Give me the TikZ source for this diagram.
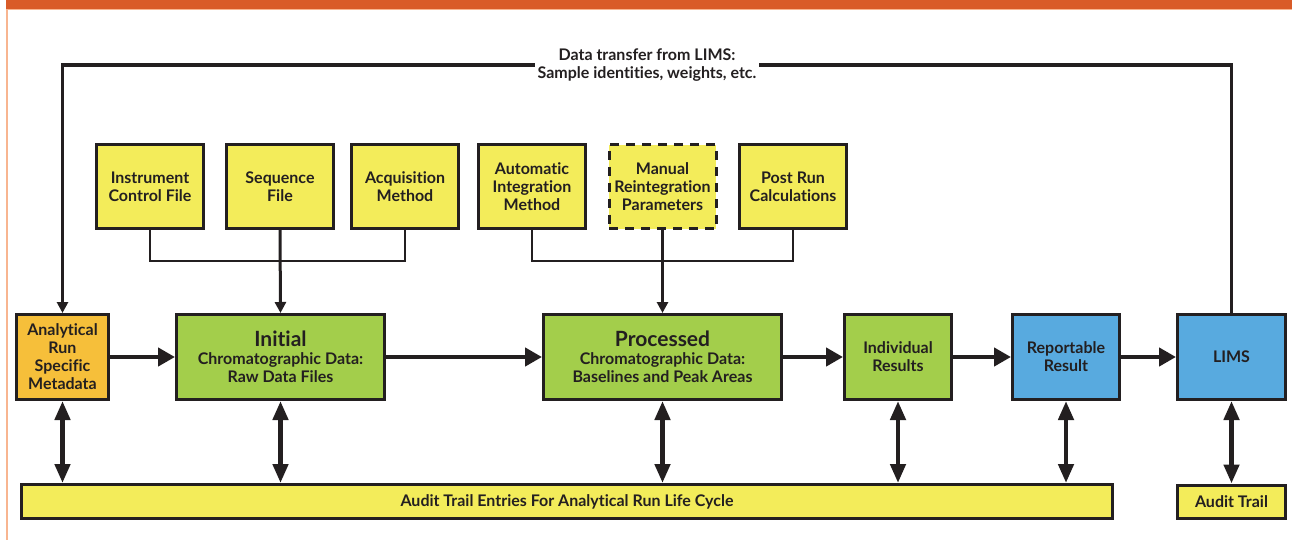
\documentclass[tikz,border=0pt]{standalone}
\usepackage{fontspec}
\setmainfont{Lato}[UprightFont=* Bold, Ligatures=CommonOff]
\usetikzlibrary{arrows.meta}
\definecolor{inkc}{HTML}{231F20}
\definecolor{yelc}{HTML}{F3EC5A}
\definecolor{grnc}{HTML}{A3CE4B}
\definecolor{bluc}{HTML}{58AADF}
\definecolor{orgc}{HTML}{F6BF3A}
\definecolor{barc}{HTML}{D95B28}
\definecolor{rulec}{HTML}{F8B590}
\tikzset{
  box/.style={draw=inkc, line width=3pt, align=center, text=inkc,
    font=\fontsize{16}{18}\selectfont, inner sep=0pt},
  topbox/.style={box, fill=yelc, minimum width=107pt, minimum height=84pt},
  flow/.style={draw=inkc, line width=4.5pt, -{Triangle[length=17pt,width=18pt]}},
  audit/.style={draw=inkc, line width=4.5pt,
    {Triangle[length=19pt,width=15pt]}-{Triangle[length=19pt,width=15pt]}},
  feed/.style={draw=inkc, line width=3pt, -{Triangle[length=11pt,width=11pt]}},
  bracket/.style={draw=inkc, line width=1.2pt},
  bigword/.style={font=\fontsize{21}{22}\selectfont},
}
\newcommand{\headword}[1]{{\fontsize{21}{23}\selectfont #1}}
\begin{document}
\begin{tikzpicture}[x=1pt,y=-1pt]
\useasboundingbox (0,0) rectangle (1292,543);
% page frame
\fill[barc] (6,0) rectangle (1292,9);
\fill[rulec] (6,9) rectangle (1292,10);
\fill[rulec] (6,9) rectangle (7.5,540);

% input files
\node[topbox] (ictrl) at (150,186.5) {Instrument\\Control File};
\node[topbox] (seq) at (280,186.5) {Sequence\\File};
\node[topbox] (acq) at (405,186.5) {Acquisition\\Method};
\node[topbox] (auto) at (532,186.5) {Automatic\\Integration\\Method};
\node[topbox, dash pattern=on 9pt off 7pt] (manual) at (662.5,186.5) {Manual\\Reintegration\\Parameters};
\node[topbox] (post) at (793,186.5) {Post Run\\Calculations};

% main flow
\node[box, fill=orgc, minimum width=92pt, minimum height=85pt] (meta) at (62.5,357) {Analytical\\Run\\Specific\\Metadata};
\node[box, fill=grnc, minimum width=208pt, minimum height=85pt] (init) at (280.5,357)
  {\headword{Initial}\\Chromatographic Data:\\Raw Data Files};
\node[box, fill=grnc, minimum width=238pt, minimum height=85pt] (proc) at (662.5,357)
  {\headword{Processed}\\Chromatographic Data:\\Baselines and Peak Areas};
\node[box, fill=grnc, minimum width=107pt, minimum height=85pt] (indiv) at (898,357) {Individual\\Results};
\node[box, fill=bluc, minimum width=107pt, minimum height=85pt] (rep) at (1066,357) {Reportable\\Result};
\node[box, fill=bluc, minimum width=108pt, minimum height=85pt] (lims) at (1231.5,357) {LIMS};

% audit trails
\node[box, fill=yelc, minimum width=1091pt, minimum height=34pt] (trail) at (567,501.5)
  {Audit Trail Entries For Analytical Run Life Cycle};
\node[box, fill=yelc, minimum width=108pt, minimum height=33pt] (ltrail) at (1231.5,501.5) {Audit Trail};

% LIMS feedback loop
\draw[feed, line width=3pt] (lims.north) -- (lims.north |- 0,65) -- (meta.north |- 0,65)
  node[pos=0.5, fill=white, inner sep=3pt, align=center, text=inkc,
       font=\fontsize{16}{18}\selectfont] (xfer) {Data transfer from LIMS:\\Sample identities, weights, etc.}
  -- (meta.north);

% brackets collecting the input files
\draw[bracket] (ictrl.south) -- (ictrl.south |- 0,261) -- (acq.south |- 0,261) -- (acq.south);
\draw[feed] (seq.south) -- (init.north);
\draw[bracket] (auto.south) -- (auto.south |- 0,261) -- (post.south |- 0,261) -- (post.south);
\draw[feed] (manual.south) -- (proc.north);

% forward flow
\draw[flow] (meta.east) -- (init.west);
\draw[flow] (init.east) -- (proc.west);
\draw[flow] (proc.east) -- (indiv.west);
\draw[flow] (indiv.east) -- (rep.west);
\draw[flow] (rep.east) -- (lims.west);

% links to audit trails
\draw[audit] (meta.south) -- (meta.south |- trail.north);
\draw[audit] (init.south) -- (init.south |- trail.north);
\draw[audit] (proc.south) -- (proc.south |- trail.north);
\draw[audit] (indiv.south) -- (indiv.south |- trail.north);
\draw[audit] (rep.south) -- (rep.south |- trail.north);
\draw[audit] (lims.south) -- (ltrail.north);
\end{tikzpicture}
\end{document}
